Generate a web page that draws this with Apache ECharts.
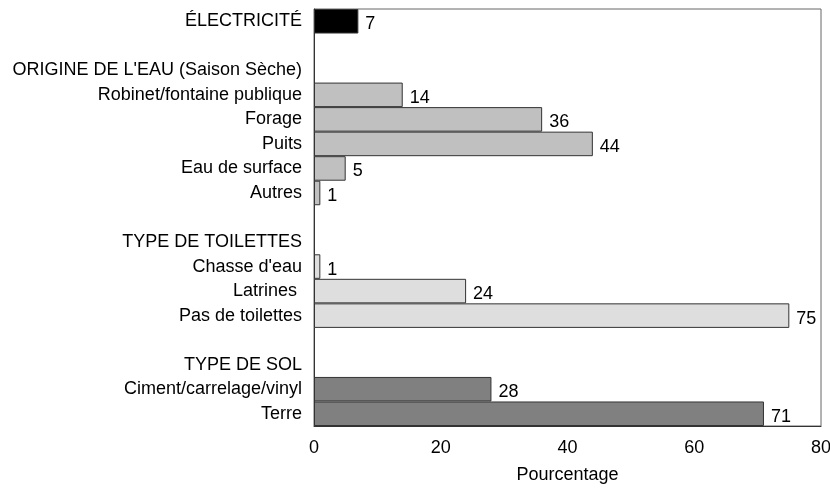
<!DOCTYPE html>
<html>
<head>
<meta charset="utf-8">
<script src="https://cdn.jsdelivr.net/npm/echarts@6/dist/echarts.min.js"></script>
<style>
html,body{margin:0;padding:0;background:#fff;}
#chart{width:830px;height:489px;}
</style>
</head>
<body>
<div id="chart"></div>
<script>
// lignes du graphique (en-têtes et lignes vides sans valeur)
const categories = [
    'ÉLECTRICITÉ', ' ',
    'ORIGINE DE L\'EAU (Saison Sèche)', 'Robinet/fontaine publique', 'Forage', 'Puits', 'Eau de surface', 'Autres',
    '  ',
    'TYPE DE TOILETTES', 'Chasse d\'eau', 'Latrines ', 'Pas de toilettes',
    '   ',
    'TYPE DE SOL', 'Ciment/carrelage/vinyl', 'Terre'
]
const values = [
    7, null,
    null, 14, 36, 44, 5, 1,
    null,
    null, 1, 24, 75,
    null,
    null, 28, 71
]
const groups = [
    'elec', '',
    '', 'eau', 'eau', 'eau', 'eau', 'eau',
    '',
    '', 'toil', 'toil', 'toil',
    '',
    '', 'sol', 'sol'
]
const xTicks = [0, 20, 40, 60, 80]

const groupColor = { elec: '#000000', eau: '#c0c0c0', toil: '#dedede', sol: '#808080' }
const font = 'Liberation Sans, Arial, sans-serif'
const fs = 18

const chart = echarts.init(document.getElementById('chart'))
const option = {
    animation: false,
    grid: {
        left: 314, right: 9, top: 9, bottom: 63,
        outerBoundsMode: 'none',
        show: true, borderColor: '#666', borderWidth: 1
    },
    xAxis: {
        type: 'value',
        min: xTicks[0],
        max: xTicks[xTicks.length - 1],
        interval: 20,
        splitLine: { show: false },
        axisLine: { show: true, lineStyle: { color: '#333' } },
        axisTick: { show: false },
        axisLabel: { color: '#000', fontSize: fs, fontFamily: font, margin: 13 },
        name: 'Pourcentage',
        nameLocation: 'middle',
        nameGap: 40,
        nameTextStyle: { color: '#000', fontSize: fs, fontFamily: font }
    },
    yAxis: {
        type: 'category',
        inverse: true,
        data: categories,
        axisLine: { show: true, lineStyle: { color: '#333' } },
        axisTick: { show: false },
        axisLabel: { color: '#000', fontSize: fs, fontFamily: font, margin: 12 }
    },
    series: [{
        type: 'bar',
        barCategoryGap: '0%',
        data: values.map((v, i) => ({
            value: v,
            itemStyle: { color: groupColor[groups[i]] || '#ccc', borderColor: '#333', borderWidth: 1 }
        })),
        label: {
            show: true,
            position: 'right',
            distance: 7,
            offset: [0, 3],
            color: '#000',
            fontSize: fs,
            fontFamily: font,
            formatter: p => (p.value == null ? '' : p.value)
        }
    }]
}
chart.setOption(option)
</script>
</body>
</html>
